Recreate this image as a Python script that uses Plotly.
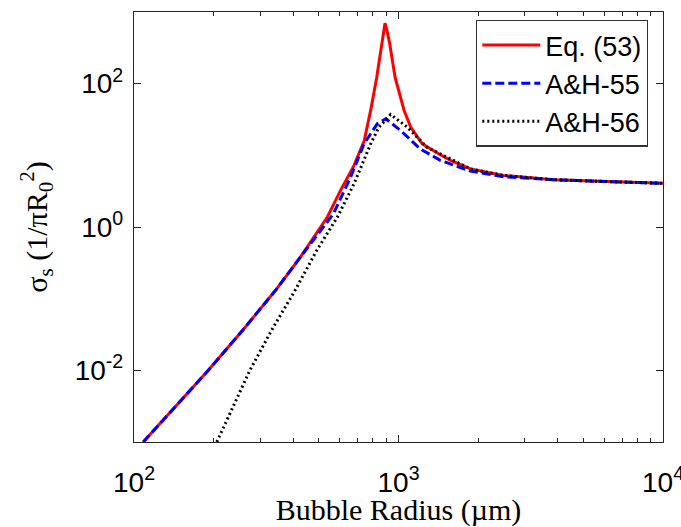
import plotly.graph_objects as go

# Scattering cross-section vs bubble radius (log-log)
radius_eq53 = [108.4, 191.0, 257.6, 304.1, 343.6, 425.6, 538.3, 603.9, 679.2, 741.3,
               785.2, 827.4, 864.2, 879.0, 889.2, 905.1, 926.4, 970.5, 1050, 1112,
               1230, 1439, 1574, 1871, 2489, 3855, 5957, 10000]
sigma_eq53 = [0.001, 0.01, 0.0363, 0.0759, 0.132, 0.380, 1.38, 3.24, 7.24, 15.85,
              42.7, 123, 360, 550, 698, 550, 360, 123, 42.3, 24.8,
              14.5, 10.2, 8.49, 6.46, 5.25, 4.57, 4.32, 4.07]

radius_ah55 = [108.4, 191.0, 257.6, 304.1, 343.6, 425.6, 521.2, 567.5, 659.0, 741.3,
               831.8, 895.4, 1018.6, 1096.5, 1208, 1439, 1871, 2489, 3855, 5957, 10000]
sigma_ah55 = [0.001, 0.01, 0.0363, 0.0759, 0.132, 0.380, 1.0, 1.53, 4.97, 14.5,
              27.6, 32.4, 22.2, 17.0, 12.3, 8.51, 6.03, 5.01, 4.57, 4.32, 4.07]

radius_ah56 = [205.6, 274.2, 331.1, 372.4, 406.4, 490.9, 587.5, 679.2, 785.2, 843.3,
               933.3, 1081, 1279, 1614, 1871, 2489, 3855, 5957, 10000]
sigma_ah56 = [0.001, 0.01, 0.0361, 0.0764, 0.1306, 0.472, 1.374, 4.02, 14.5, 24.7,
              37.2, 24.7, 13.0, 8.49, 6.46, 5.25, 4.57, 4.32, 4.07]

x_tickvals = [100, 1000, 10000]
x_ticktext = ["10<sup>2</sup>", "10<sup>3</sup>", "10<sup>4</sup>"]
y_tickvals = [0.01, 1, 100]
y_ticktext = ["10<sup>-2</sup>", "10<sup>0</sup>", "10<sup>2</sup>"]
x_minor = [k * 10 ** d for d in (2, 3) for k in range(2, 10)]

sans = "Liberation Sans, Arial, sans-serif"
serif = "Liberation Serif, Times New Roman, serif"
axis_color = "#262626"

fig = go.Figure()
fig.add_trace(go.Scatter(x=radius_eq53, y=sigma_eq53, mode="lines", name="Eq. (53)",
                         line=dict(color="#ff0000", width=3)))
fig.add_trace(go.Scatter(x=radius_ah55, y=sigma_ah55, mode="lines", name="A&H-55",
                         line=dict(color="#0000ff", width=3, dash="9px,4px")))
fig.add_trace(go.Scatter(x=radius_ah56, y=sigma_ah56, mode="lines", name="A&H-56",
                         line=dict(color="#000000", width=3, dash="2px,3px")))

fig.update_layout(
    width=681, height=527,
    margin=dict(l=134, r=18, t=12, b=85, autoexpand=False),
    paper_bgcolor="white", plot_bgcolor="white",
    showlegend=True,
    legend=dict(x=0.6465, y=0.982, xanchor="left", yanchor="top",
                bgcolor="white", bordercolor="#333333", borderwidth=1.3,
                font=dict(family=sans, size=27, color="black"),
                itemwidth=58, tracegroupgap=0),
)
fig.update_xaxes(
    type="log", range=[2, 4], automargin=False,
    tickmode="array", tickvals=x_tickvals, ticktext=x_ticktext,
    ticks="inside", ticklen=7, tickwidth=1, tickcolor=axis_color,
    minor=dict(tickmode="array", tickvals=x_minor, ticks="inside", ticklen=4,
               tickwidth=1, tickcolor=axis_color, showgrid=False),
    showline=True, linecolor=axis_color, linewidth=1.3, mirror="ticks",
    showgrid=False, zeroline=False,
    tickfont=dict(family=sans, size=28, color="black"),
    ticklabelstandoff=15, ticklabeloverflow="allow",
    title=dict(text="Bubble Radius (µm)", font=dict(family=serif, size=30, color="black"),
               standoff=2),
)
fig.update_yaxes(
    type="log", range=[-3, 3], automargin=False,
    tickmode="array", tickvals=y_tickvals, ticktext=y_ticktext,
    ticks="inside", ticklen=7, tickwidth=1, tickcolor=axis_color,
    showline=True, linecolor=axis_color, linewidth=1.3, mirror="ticks",
    showgrid=False, zeroline=False,
    tickfont=dict(family=sans, size=28, color="black"),
    ticklabelstandoff=4,
    title=dict(text="σ<sub>s</sub> (1/πR<sub>0</sub><sup>2</sup>)",
               font=dict(family=serif, size=30, color="black"), standoff=18),
)

fig.write_html("out.html")
